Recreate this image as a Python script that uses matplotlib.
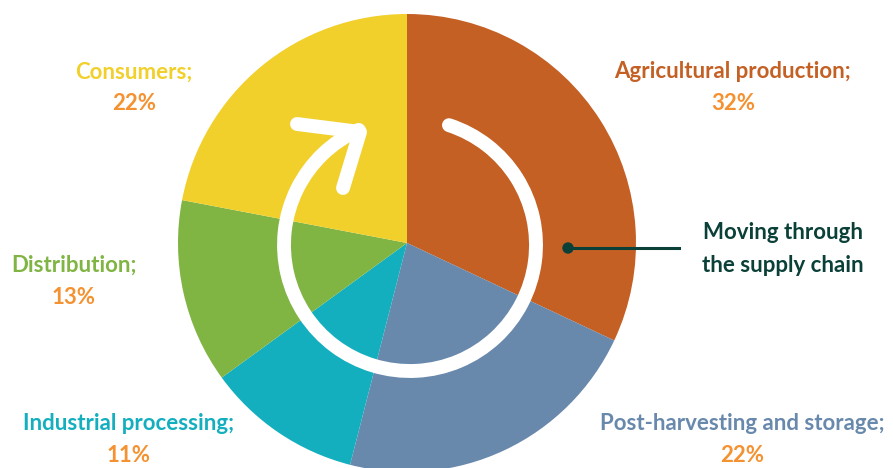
import matplotlib.pyplot as plt
from matplotlib.patches import Arc, Circle
from matplotlib.lines import Line2D

# data
stages = ["Agricultural production", "Post-harvesting and storage",
          "Industrial processing", "Distribution", "Consumers"]
shares = [32, 22, 11, 13, 22]
colors = ["#C46024", "#6888AC", "#14AFBF", "#80B443", "#F1D02C"]
pct_color = "#F49232"
note_color = "#0B4038"
note_text = "Moving through\nthe supply chain"

# label positions in pixel coords (x, y from top)
label_pos = [(733, 72), (742, 424), (129, 424), (74, 265), (134, 72)]

W, H = 893, 468
fig = plt.figure(figsize=(W / 100, H / 100), dpi=100)
ax = fig.add_axes([0, 0, 1, 1])

cx, cy, r = 407, H - 243, 229
ax.pie(shares, colors=colors, startangle=90, counterclock=False,
       center=(cx, cy), radius=r, wedgeprops=dict(linewidth=0))
ax.set_xlim(0, W)
ax.set_ylim(0, H)
ax.set_aspect("equal")
ax.axis("off")

# white circular arrow
rc = 126
ax.add_patch(Arc((410, H - 245), 2 * rc, 2 * rc, theta1=114, theta2=72,
                 color="white", lw=10, capstyle="round", zorder=3))
ax.add_line(Line2D([297, 360, 343], [H - 124, H - 132, H - 188],
                   color="white", lw=10, solid_capstyle="round",
                   solid_joinstyle="round", zorder=3))

# pointer and note
ax.add_line(Line2D([567, 679], [H - 248, H - 248], color=note_color, lw=2.2, zorder=4))
ax.add_patch(Circle((568, H - 248), 5, color=note_color, zorder=4))
ax.text(783, H - 249, note_text, color=note_color, fontsize=16, fontweight="bold",
        family="Lato", ha="center", va="center", linespacing=1.65)

for name, val, col, (x, y) in zip(stages, shares, colors, label_pos):
    ax.text(x, H - y, name + ";", color=col, fontsize=16, fontweight="bold",
            family="Lato", ha="center", va="center")
    ax.text(x, H - y - 32, f"{val}%", color=pct_color, fontsize=16,
            fontweight="bold", family="Lato", ha="center", va="center")

fig.savefig("out.png", dpi=100)
